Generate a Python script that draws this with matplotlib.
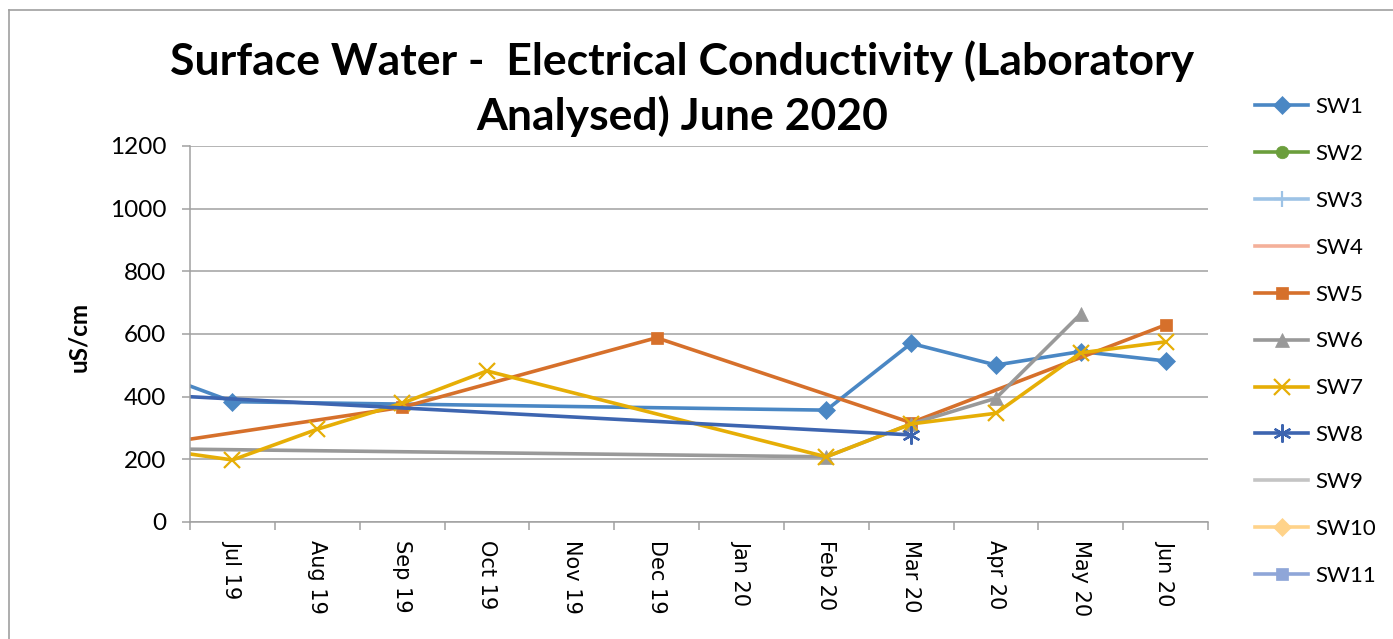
import matplotlib
matplotlib.use("Agg")
import matplotlib.pyplot as plt
from matplotlib.lines import Line2D

# months on the category axis; "Jun 19" sits left of the visible range (clipped)
months = ["Jun 19", "Jul 19", "Aug 19", "Sep 19", "Oct 19", "Nov 19", "Dec 19",
          "Jan 20", "Feb 20", "Mar 20", "Apr 20", "May 20", "Jun 20"]
xpos = list(range(-1, 12))

N = None
sw1 = [484, 384, N, N, N, N, N, N, 357, 570, 501, 544, 514]
sw2 = [N] * 13
sw3 = [N] * 13
sw4 = [N] * 13
sw5 = [244, N, N, 366, N, N, 588, N, N, 317, N, N, 629]
sw6 = [234, N, N, N, N, N, N, N, 208, 313, 395, 664, N]
sw7 = [236, 198, 296, 379, 482, N, N, N, 208, 313, 347, 540, 575]
sw8 = [407, N, N, N, N, N, N, N, N, 278, N, N, N]
sw9 = [N] * 13
sw10 = [N] * 13
sw11 = [N] * 13

series = [("SW1", sw1, "#4A87C4", "D", 9),
          ("SW2", sw2, "#6B9E3C", "o", 9),
          ("SW3", sw3, "#9DC3E6", "+", 12),
          ("SW4", sw4, "#F4B09A", None, 0),
          ("SW5", sw5, "#D6702B", "s", 9),
          ("SW6", sw6, "#999999", "^", 10),
          ("SW7", sw7, "#E6AE06", "x", 12),
          ("SW8", sw8, "#3D65B0", (6, 2, 0), 13),
          ("SW9", sw9, "#C4C4C4", None, 0),
          ("SW10", sw10, "#FFD38A", "D", 9),
          ("SW11", sw11, "#8FA6D8", "s", 9)]

calibri_like = "Lato"
gray = "#A0A0A0"

fig = plt.figure(figsize=(13.93, 6.39), dpi=100)
ax = fig.add_axes([190 / 1393, 117 / 639, 1018 / 1393, 376 / 639])

handles = []
for name, vals, col, mk, ms in series:
    xs = [x for x, v in zip(xpos, vals) if v is not None]
    ys = [v for v in vals if v is not None]
    h, = ax.plot(xs, ys, color=col, lw=2.6, marker=mk, markersize=ms,
                 markeredgewidth=1.6 if mk in ("+", "x", (6, 2, 0)) else 0.5,
                 markeredgecolor=col, markerfacecolor=col, label=name)
    handles.append(h)

ax.set_xlim(-0.5, 11.5)
ax.set_ylim(0, 1200)
ax.set_yticks(range(0, 1201, 200))
ax.grid(axis="y", color=gray, lw=1.1)
ax.set_axisbelow(True)

ax.set_xticks(range(12))
ax.set_xticklabels(months[1:], rotation=-90, fontsize=15, family="DejaVu Sans",
                   va="top", ha="center")
ax.set_xticks([i - 0.5 for i in range(13)], minor=True)
ax.tick_params(axis="x", which="major", length=0, pad=13)
ax.tick_params(axis="x", which="minor", length=6, color=gray, width=1.1)
ax.tick_params(axis="y", length=6, color=gray, width=1.1, pad=11,
               labelsize=17.5)
for lab in ax.get_yticklabels():
    lab.set_family(calibri_like)

for s in ("top", "right"):
    ax.spines[s].set_visible(False)
for s in ("left", "bottom"):
    ax.spines[s].set_color(gray)
    ax.spines[s].set_linewidth(1.1)

ax.set_ylabel("uS/cm", fontsize=17.5, fontweight="bold", family=calibri_like)
ax.yaxis.set_label_coords(-0.098, 0.492)

fig.text(682 / 1393, 1 - 61 / 639, "Surface Water -  Electrical Conductivity (Laboratory",
         ha="center", va="center", fontsize=32, fontweight="bold", family=calibri_like)
fig.text(682 / 1393, 1 - 116 / 639, "Analysed) June 2020",
         ha="center", va="center", fontsize=32, fontweight="bold", family=calibri_like)

fig.legend(handles=handles, loc="upper left", bbox_to_anchor=(1255 / 1393, 1 - 97 / 639),
           frameon=False, prop={"family": calibri_like, "size": 16},
           handlelength=2.4, handletextpad=0.3, labelspacing=1.21, borderpad=0,
           borderaxespad=0)

# outer chart frame
fig.add_artist(Line2D([8.5 / 1393, 8.5 / 1393], [0, 1 - 10 / 639], color=gray,
                      lw=1.2, transform=fig.transFigure))
fig.add_artist(Line2D([8.5 / 1393, 1], [1 - 10 / 639, 1 - 10 / 639], color=gray,
                      lw=1.2, transform=fig.transFigure))

fig.savefig("out.png", dpi=100)
